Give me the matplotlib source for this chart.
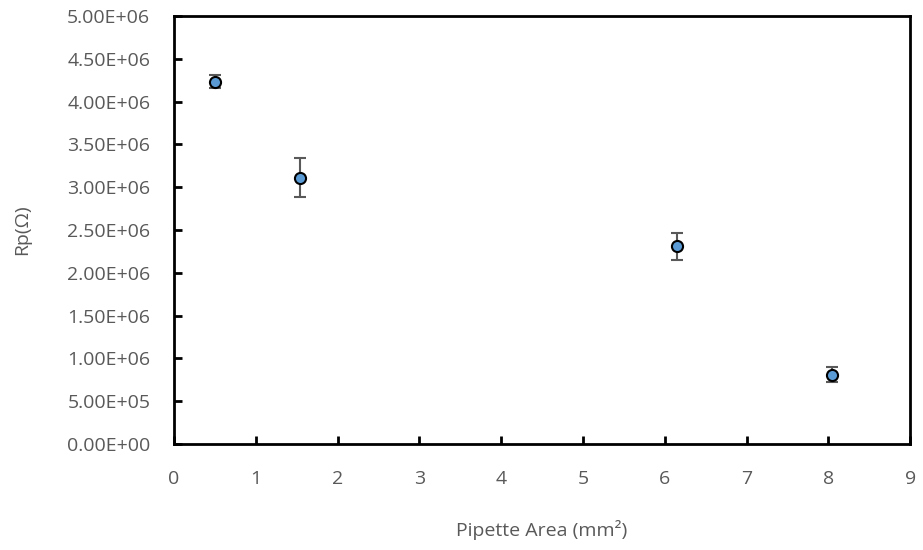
import matplotlib.pyplot as plt
from matplotlib.ticker import FuncFormatter

plt.rcParams['font.family'] = ['Open Sans', 'DejaVu Sans']

# Pipette area (mm^2) vs. Rp (ohm)
area = [0.50, 1.54, 6.15, 8.04]
rp = [4.23e6, 3.11e6, 2.31e6, 0.81e6]
rp_err = [0.075e6, 0.23e6, 0.155e6, 0.085e6]

fig = plt.figure(figsize=(9.23, 5.5), dpi=100)
ax = fig.add_axes([0.1885, 0.1927, 0.7975, 0.7783])

ax.errorbar(area, rp, yerr=rp_err, fmt='o', color='#5B9BD5', markersize=8,
            markeredgecolor='black', markeredgewidth=1.5,
            ecolor='#595959', elinewidth=1.5, capsize=4, capthick=1.5)

ax.set_xlim(0, 9)
ax.set_ylim(0, 5e6)
ax.set_xticks(range(0, 10))
ax.set_yticks([i * 5e5 for i in range(11)])


def sci_fmt(value, pos):
    return f'{value:.2E}'


ax.yaxis.set_major_formatter(FuncFormatter(sci_fmt))

for s in ax.spines.values():
    s.set_linewidth(2)
    s.set_color('black')

ax.tick_params(direction='in', length=6, width=2, colors='black',
               labelcolor='#595959', labelsize=14)
ax.tick_params(axis='y', pad=17)
ax.tick_params(axis='x', pad=19)

# axis titles placed in figure coordinates
fig.text(0.5 * (0.1885 + 0.986), 1 - 530 / 550, 'Pipette Area (mm²)',
         fontsize=14, color='#595959', ha='center', va='center')
fig.text(22 / 923, 1 - 230 / 550, 'Rp(Ω)', fontsize=14, color='#595959',
         ha='center', va='center', rotation=90)

plt.savefig('out.png', dpi=100)
